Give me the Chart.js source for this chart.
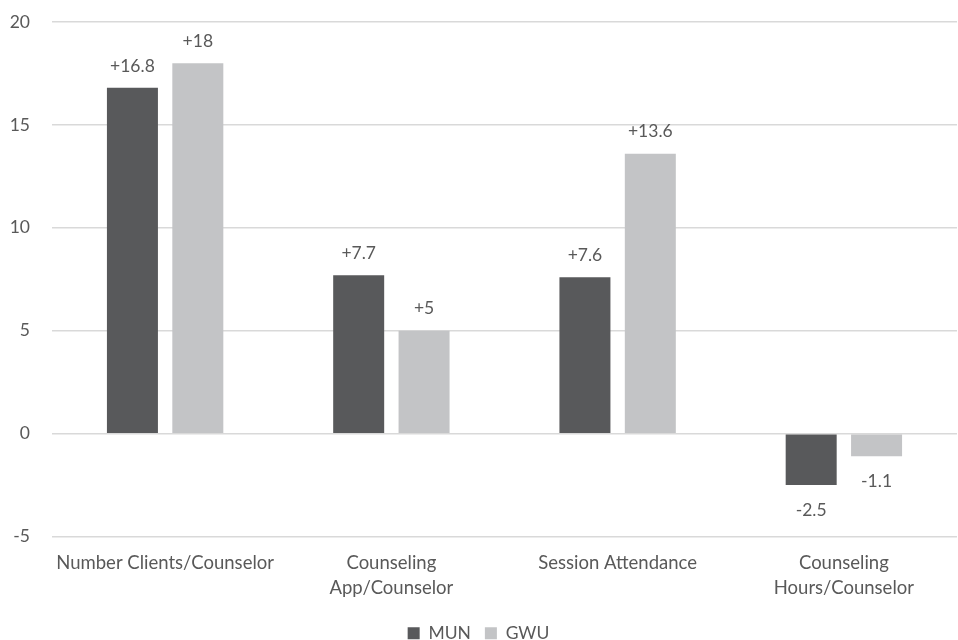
<!DOCTYPE html>
<html>
<head>
<meta charset="utf-8">
<script src="https://cdn.jsdelivr.net/npm/chart.js@4/dist/chart.umd.min.js"></script>
<style>
  html, body { margin: 0; padding: 0; background: #ffffff; }
  #wrap { width: 958px; height: 640px; }
</style>
</head>
<body>
<div id="wrap"><canvas id="c"></canvas></div>
<script>
// Change per counselor, by metric
const categories = [
  'Number Clients/Counselor',
  ['Counseling', 'App/Counselor'],
  'Session Attendance',
  ['Counseling', 'Hours/Counselor']
];
const seriesNames = ['MUN', 'GWU'];
const munValues = [16.8, 7.7, 7.6, -2.5];
const gwuValues = [18, 5, 13.6, -1.1];
const yTicks = [-5, 0, 5, 10, 15, 20];

const FONT = 'Lato, "Open Sans", sans-serif';
const TEXT = '#595959';

// Writes each bar's signed value just beyond its end
const valueLabels = {
  id: 'valueLabels',
  afterDatasetsDraw(chart) {
    const ctx = chart.ctx;
    ctx.save();
    ctx.font = '17.5px ' + FONT;
    ctx.fillStyle = TEXT;
    ctx.textAlign = 'center';
    ctx.textBaseline = 'middle';
    chart.data.datasets.forEach((ds, di) => {
      const meta = chart.getDatasetMeta(di);
      meta.data.forEach((bar, i) => {
        const v = ds.data[i];
        const txt = (v > 0 ? '+' : '') + v;
        const y = v >= 0 ? bar.y - 22 : bar.y + 25;
        ctx.fillText(txt, bar.x, y);
      });
    });
    ctx.restore();
  }
};

new Chart(document.getElementById('c'), {
  type: 'bar',
  data: {
    labels: categories,
    datasets: [
      { label: seriesNames[0], data: munValues, backgroundColor: '#58595b',
        categoryPercentage: 0.578, barPercentage: 0.78 },
      { label: seriesNames[1], data: gwuValues, backgroundColor: '#c3c4c6',
        categoryPercentage: 0.578, barPercentage: 0.78 }
    ]
  },
  options: {
    responsive: true,
    maintainAspectRatio: false,
    animation: false,
    layout: { padding: { top: 0, right: 1, left: 0, bottom: -12 } },
    plugins: {
      tooltip: { enabled: false },
      legend: {
        position: 'bottom',
        labels: {
          font: { family: FONT, size: 17.5 },
          color: TEXT,
          boxWidth: 12,
          boxHeight: 12,
          padding: 14
        }
      }
    },
    scales: {
      x: {
        afterFit(axis) {
          axis.height += 4;
        },
        grid: { display: false },
        border: { display: false },
        ticks: {
          color: TEXT,
          font: { family: FONT, size: 18.5, lineHeight: 1.35 },
          maxRotation: 0,
          padding: 6
        }
      },
      y: {
        min: -5,
        max: 20,
        afterBuildTicks(axis) {
          axis.ticks = yTicks.map(v => ({ value: v }));
        },
        afterFit(axis) {
          axis.width = 52;
          axis.paddingTop = 22;
          axis.paddingBottom = 0;
        },
        grid: { color: '#d9d9d9', lineWidth: 1.5, drawTicks: false },
        border: { display: false },
        ticks: {
          color: TEXT,
          font: { family: FONT, size: 17.5 },
          padding: 22
        }
      }
    }
  },
  plugins: [valueLabels]
});
</script>
</body>
</html>
